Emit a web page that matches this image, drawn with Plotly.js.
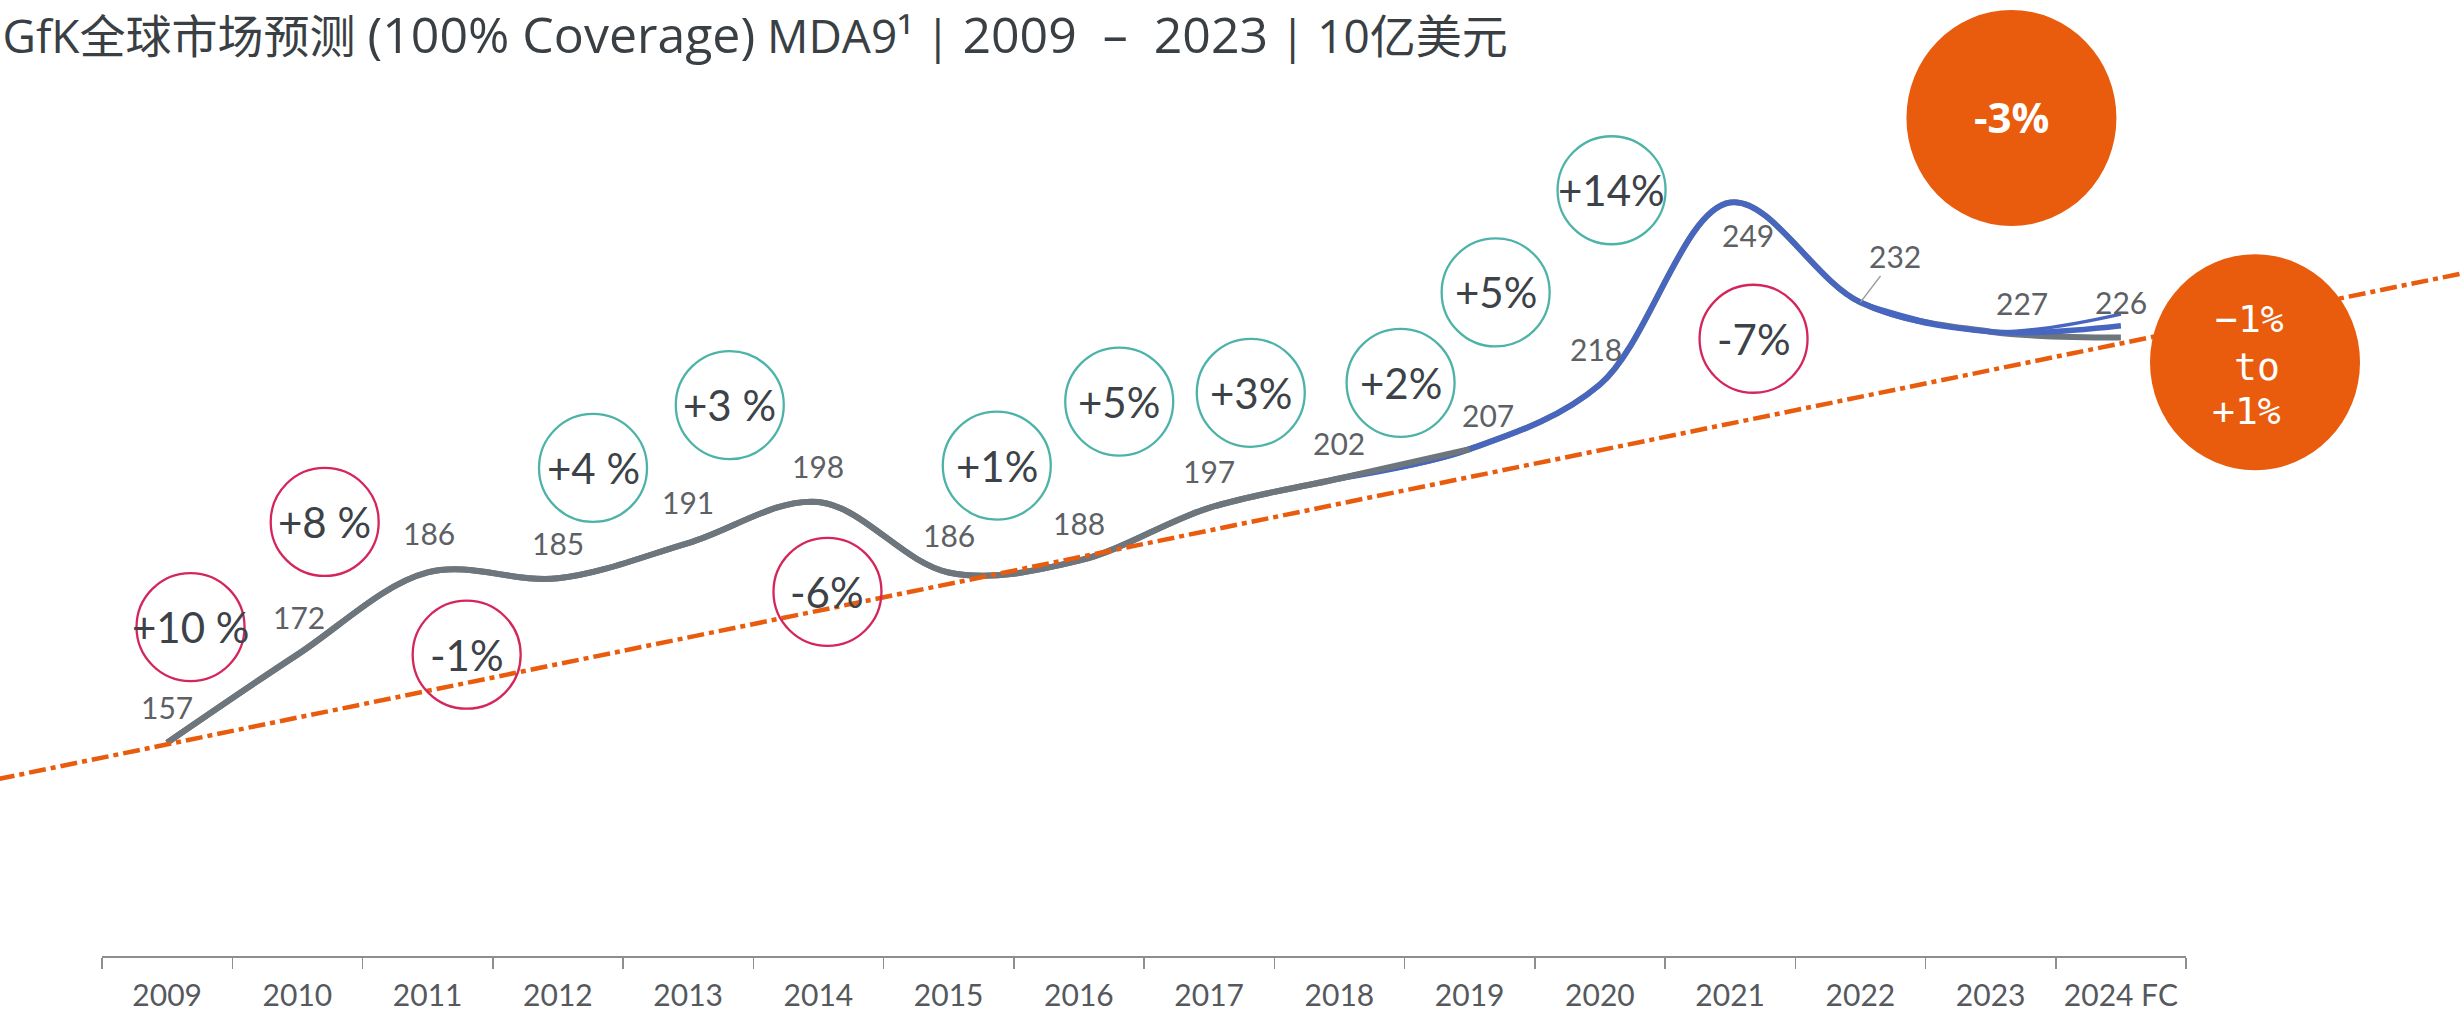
<!DOCTYPE html>
<html>
<head>
<meta charset="utf-8">
<script src="https://cdn.plot.ly/plotly-3.0.1.min.js"></script>
<style>
  html, body { margin: 0; padding: 0; background: #ffffff; }
  #chart { width: 2461px; height: 1013px; }
</style>
</head>
<body>
<div id="chart"></div>
<script>
// ---------------- DATA ----------------
const years = ['2009','2010','2011','2012','2013','2014','2015','2016','2017','2018','2019','2020','2021','2022','2023','2024 FC'];
const marketValues = [157,172,186,185,191,198,186,188,197,202,207,218,249,232,227,226];
// 2024 forecast range: low / mid / high
const forecastValues = [226, 228, 230];

// year-on-year growth bubbles
const growthLabels = ['+10 %','+8 %','-1%','+4 %','+3 %','-6%','+1%','+5%','+3%','+2%','+5%','+14%','-7%'];

// forecast bubbles
const bubbleLabels = ['-3%', '\u22121%<br>to<br>+1%'];

// trend line (values at the two ends of the chart)
const trendYears = [2007.7, 2026.7];
const trendValues = [150.8, 237.3];

// ---------------- LAYOUT CONFIG (positions / styles) ----------------
const growthPosYear  = [2009.18, 2010.21, 2011.30, 2012.27, 2013.32, 2014.07, 2015.37, 2016.31, 2017.32, 2018.47, 2019.20, 2020.09, 2021.18];
const growthPosValue = [176.7, 194.6, 172.0, 203.8, 214.5, 182.7, 204.2, 215.1, 216.6, 218.3, 233.7, 251.1, 225.8];
const RED = '#d4265b', TEAL = '#4db3a8';
const growthColors = [RED, RED, RED, TEAL, TEAL, RED, TEAL, TEAL, TEAL, TEAL, TEAL, TEAL, RED];

const bubblePosYear  = [2023.16, 2025.03];
const bubblePosValue = [263.4, 221.8];
const bubbleRadii = [[105, 108], [105, 108]];
const bubbleLineShiftX = [-6, 2, -9];
const bubbleLineShiftY = [43, -5, -49];
const ORANGE = '#e95c0e';

const labelShiftX = [0, 2, 1, 0, 0, 0, 0, 0, 0, 0, 18, -4, 18, 0, 31, 0];
const labelShiftY = [36, 38, 39, 35, 41, 36, 37, 38, 37, 36, 34, 36, -32, 0, 29, 36];

const GREY_LINE = '#6c767c';
const BLUE_LINE = '#4766c0';
const LABEL_GREY = '#5d6165';
const TEXT_DARK = '#3c4247';
const LATO = 'Lato, "Open Sans", sans-serif';

// ---------------- TRACES ----------------
const iBlue = years.indexOf('2018');
const iGreyEnd = years.indexOf('2019');
const iLast = years.length - 1;

const splineLine = (color, width) => ({ shape: 'spline', smoothing: 1, color: color, width: width });

const traces = [
  // full grey series (low forecast branch)
  { x: years, y: marketValues, xaxis: 'x', yaxis: 'y', mode: 'lines',
    line: splineLine(GREY_LINE, 6), hoverinfo: 'skip' },
  // blue recent part + mid forecast branch
  { x: years.slice(iBlue), y: marketValues.slice(iBlue, iLast).concat([forecastValues[1]]),
    xaxis: 'x', yaxis: 'y', mode: 'lines', line: splineLine(BLUE_LINE, 5.5), hoverinfo: 'skip' },
  // blue high forecast branch
  { x: years.slice(iLast - 2), y: marketValues.slice(iLast - 2, iLast).concat([forecastValues[2]]),
    xaxis: 'x', yaxis: 'y', mode: 'lines', line: splineLine(BLUE_LINE, 3.5), hoverinfo: 'skip' },
  // grey early part on top
  { x: years.slice(0, iGreyEnd + 1), y: marketValues.slice(0, iGreyEnd + 1),
    xaxis: 'x', yaxis: 'y', mode: 'lines', line: splineLine(GREY_LINE, 6), hoverinfo: 'skip' },
  // trend line across the whole width
  { x: trendYears, y: trendValues, xaxis: 'x2', yaxis: 'y', mode: 'lines',
    line: { color: ORANGE, width: 4.5, dash: '17px,5px,5px,5px' }, hoverinfo: 'skip' }
];

// ---------------- SHAPES & ANNOTATIONS ----------------
const shapes = [];
const annotations = [];
const R = 54;

growthLabels.forEach((t, i) => {
  shapes.push({
    type: 'circle', xref: 'x2', yref: 'y', xsizemode: 'pixel', ysizemode: 'pixel',
    xanchor: growthPosYear[i], yanchor: growthPosValue[i],
    x0: -R, x1: R, y0: -R, y1: R,
    line: { color: growthColors[i], width: 2.3 }, fillcolor: 'rgba(0,0,0,0)', layer: 'above'
  });
  annotations.push({
    xref: 'x2', yref: 'y', x: growthPosYear[i], y: growthPosValue[i], text: t, showarrow: false,
    font: { family: LATO, size: 42, color: TEXT_DARK },
    xanchor: 'center', yanchor: 'middle'
  });
});

bubbleLabels.forEach((t, i) => {
  shapes.push({
    type: 'circle', xref: 'x2', yref: 'y', xsizemode: 'pixel', ysizemode: 'pixel',
    xanchor: bubblePosYear[i], yanchor: bubblePosValue[i],
    x0: -bubbleRadii[i][0], x1: bubbleRadii[i][0], y0: -bubbleRadii[i][1], y1: bubbleRadii[i][1],
    line: { width: 0 }, fillcolor: ORANGE, layer: 'above'
  });
});
annotations.push({
  xref: 'x2', yref: 'y', x: bubblePosYear[0], y: bubblePosValue[0], text: '<b>' + bubbleLabels[0] + '</b>',
  showarrow: false, font: { family: '"Open Sans", sans-serif', size: 42, color: '#ffffff' },
  xanchor: 'center', yanchor: 'middle', yshift: 2
});
bubbleLabels[1].split('<br>').forEach((line, j) => {
  annotations.push({
    xref: 'x2', yref: 'y', x: bubblePosYear[1], y: bubblePosValue[1], text: line,
    showarrow: false, font: { family: '"DejaVu Sans Mono", "Liberation Mono", monospace', size: 38, color: '#ffffff' },
    xanchor: 'center', yanchor: 'middle', xshift: bubbleLineShiftX[j], yshift: bubbleLineShiftY[j]
  });
});

// value labels (x given as category index)
marketValues.forEach((v, i) => {
  const base = {
    xref: 'x', yref: 'y', x: i, y: v, text: String(v),
    font: { family: LATO, size: 30, color: LABEL_GREY },
    xanchor: 'center', yanchor: 'middle'
  };
  if (years[i] === '2022') {
    annotations.push(Object.assign(base, {
      showarrow: true, arrowhead: 0, arrowwidth: 1.5, arrowcolor: '#9a9a9a',
      ax: 35, ay: -46, axref: 'pixel', ayref: 'pixel', standoff: 0
    }));
  } else {
    annotations.push(Object.assign(base, {
      showarrow: false, xshift: labelShiftX[i], yshift: labelShiftY[i]
    }));
  }
});

// ---------------- LAYOUT ----------------
const NB = '\u00a0';
const titleText = 'GfK全球市场预测 <span style="font-size:50px">(100% Coverage)</span> MDA9\u00b9 | ' +
  '<span style="font-size:50px">2009' + NB + NB + '\u2013' + NB + NB + '2023</span> | 10亿美元';

const layout = {
  width: 2461, height: 1013,
  margin: { l: 0, r: 0, t: 0, b: 57, pad: 0 },
  paper_bgcolor: '#ffffff', plot_bgcolor: 'rgba(0,0,0,0)',
  showlegend: false, hovermode: false,
  title: {
    text: titleText,
    x: 0.001, xanchor: 'left', xref: 'container',
    y: 0.964, yanchor: 'middle', yref: 'container',
    font: { family: '"Open Sans", "Noto Sans CJK SC", sans-serif', size: 46, color: '#3a3f44' }
  },
  xaxis: {
    type: 'category', domain: [102 / 2461, 2186 / 2461], anchor: 'y',
    range: [-0.5, 15.5], fixedrange: true,
    showline: true, linecolor: '#8e8e8e', linewidth: 2,
    ticks: 'outside', tickson: 'boundaries', ticklen: 11, tickwidth: 1.5, tickcolor: '#8e8e8e',
    ticklabelstandoff: 12,
    tickfont: { family: LATO, size: 30, color: '#55595d' },
    showgrid: false, zeroline: false
  },
  xaxis2: {
    type: 'linear', domain: [0, 1], anchor: 'y',
    range: [2007.7171, 2026.6115], visible: false, fixedrange: true,
    showgrid: false, zeroline: false
  },
  yaxis: {
    type: 'linear', domain: [0, 1], anchor: 'x',
    range: [120.67, 283.5], visible: false, fixedrange: true,
    showgrid: false, zeroline: false
  },
  shapes: shapes,
  annotations: annotations
};

Plotly.newPlot('chart', traces, layout, { displayModeBar: false, staticPlot: true, responsive: false });
</script>
</body>
</html>
